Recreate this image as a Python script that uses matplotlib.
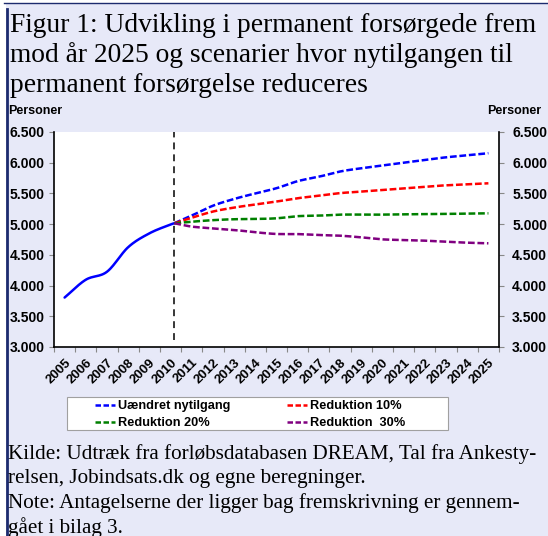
import numpy as np
import matplotlib
matplotlib.use("Agg")
import matplotlib.pyplot as plt
from matplotlib.patches import Rectangle
from matplotlib.lines import Line2D

# ---------------- data ----------------
years = list(range(2005, 2026))
year_labels = [str(y) for y in years]

hist_x = [2005, 2006, 2007, 2008, 2009, 2010, 2010.18]
hist_y = [3805, 4095, 4225, 4625, 4850, 4995, 5015]

proj_x = [2010.18] + list(range(2011, 2026))
uaendret = [5015, 5140, 5300, 5410, 5500, 5585, 5700, 5772, 5857, 5910, 5955, 6000, 6045, 6088, 6120, 6155]
red10 = [5015, 5105, 5205, 5270, 5320, 5368, 5422, 5463, 5505, 5530, 5556, 5583, 5610, 5632, 5648, 5665]
red20 = [5015, 5040, 5065, 5080, 5083, 5095, 5130, 5138, 5155, 5155, 5155, 5160, 5163, 5166, 5172, 5176]
red30 = [5015, 4960, 4932, 4905, 4868, 4840, 4838, 4823, 4812, 4785, 4752, 4742, 4731, 4714, 4698, 4688]

yticks = [3000, 3500, 4000, 4500, 5000, 5500, 6000, 6500]
ytick_labels = ["3.000", "3.500", "4.000", "4.500", "5.000", "5.500", "6.000", "6.500"]

series_labels = ["Uændret nytilgang", "Reduktion 10%", "Reduktion 20%", "Reduktion  30%"]
series_colors = ["#0000FF", "#FF0000", "#008000", "#800080"]

title_lines = ["Figur 1: Udvikling i permanent forsørgede frem",
               "mod år 2025 og scenarier hvor nytilgangen til",
               "permanent forsørgelse reduceres"]
note_lines = ["Kilde: Udtræk fra forløbsdatabasen DREAM, Tal fra Ankesty-",
              "relsen, Jobindsats.dk og egne beregninger.",
              "Note: Antagelserne der ligger bag fremskrivning er gennem-",
              "gået i bilag 3."]


def smooth(x, y, n=24):
    """Cubic Hermite (Catmull-Rom like) curve through the given points."""
    x = np.asarray(x, float)
    y = np.asarray(y, float)
    k = len(x)
    m = np.zeros(k)
    for i in range(k):
        if i == 0:
            m[i] = (y[1] - y[0]) / (x[1] - x[0])
        elif i == k - 1:
            m[i] = (y[-1] - y[-2]) / (x[-1] - x[-2])
        else:
            m[i] = (y[i + 1] - y[i - 1]) / (x[i + 1] - x[i - 1])
    xs, ys = [], []
    for i in range(k - 1):
        h = x[i + 1] - x[i]
        t = np.linspace(0, 1, n, endpoint=(i == k - 2))
        h00 = 2 * t**3 - 3 * t**2 + 1
        h10 = t**3 - 2 * t**2 + t
        h01 = -2 * t**3 + 3 * t**2
        h11 = t**3 - t**2
        xs.append(x[i] + t * h)
        ys.append(h00 * y[i] + h10 * h * m[i] + h01 * y[i + 1] + h11 * h * m[i + 1])
    return np.concatenate(xs), np.concatenate(ys)


# ---------------- figure ----------------
W, H = 548, 536
plt.rcParams["font.family"] = ["Liberation Sans", "DejaVu Sans"]
plt.rcParams["font.weight"] = "bold"

fig = plt.figure(figsize=(W / 100, H / 100), dpi=100, facecolor="white")
lav = "#E7E9F8"
navy = "#1C2B6E"
serif = ["Liberation Serif", "DejaVu Serif"]

def fx(px):
    return px / W

def fy(py):
    return 1 - py / H

fig.patches.append(Rectangle((fx(6), 0), 1 - fx(6), fy(3), transform=fig.transFigure,
                             facecolor=lav, edgecolor="none", zorder=-5))
fig.add_artist(Line2D([fx(4), 1], [fy(2.5), fy(2.5)], transform=fig.transFigure, color=navy, lw=1.0))
fig.add_artist(Line2D([fx(6.5), fx(6.5)], [0, fy(9)], transform=fig.transFigure, color=navy, lw=2.0))

ax = fig.add_axes([fx(54), fy(347), fx(499) - fx(54), fy(132) - fy(347)])
ax.set_facecolor("white")

# historical line
hx, hy = smooth(hist_x, hist_y)
ax.plot(hx, hy, color="#0000FF", lw=1.8, solid_capstyle="round", zorder=3)

for vals, col in zip([uaendret, red10, red20, red30], series_colors):
    sx, sy = smooth(proj_x, vals)
    ax.plot(sx, sy, color=col, lw=1.8, dashes=(2.7, 1.1), zorder=4)

# vertical dashed marker
ax.plot([hist_x[-1], hist_x[-1]], [3110, 6500], color="black", lw=1.1, dashes=(4.5, 3.3), zorder=5)

ax.set_xlim(2004.5, 2025.5)
ax.set_ylim(3000, 6500)
ax.set_yticks(yticks)
ax.set_yticklabels(ytick_labels)
ax.set_xticks(years)
ax.set_xticklabels(year_labels, rotation=45, ha="right", va="top", rotation_mode="anchor")
ax.set_xticks([y - 0.5 for y in years] + [2025.5], minor=True)

ax.tick_params(axis="x", which="major", length=0, labelsize=9.5, pad=7)
ax.tick_params(axis="x", which="minor", length=3.5, color="#888888", width=0.8, direction="out")
ax.tick_params(axis="y", which="major", length=3.5, color="#888888", width=0.8,
               direction="out", labelsize=10, pad=3.5)

ax.spines["top"].set_visible(False)
ax.spines["right"].set_visible(False)
for s in ["left", "bottom"]:
    ax.spines[s].set_color("black")
    ax.spines[s].set_linewidth(1.2)

ax2 = ax.twinx()
ax2.set_ylim(3000, 6500)
ax2.set_yticks(yticks)
ax2.set_yticklabels(ytick_labels)
ax2.tick_params(axis="y", length=3.5, color="#888888", width=0.8, direction="out",
                labelsize=10, pad=6)
for s in ["top", "left", "bottom"]:
    ax2.spines[s].set_visible(False)
ax2.spines["right"].set_color("black")
ax2.spines["right"].set_linewidth(1.2)

# "Personer" labels
fig.text(fx(8), fy(111), "Personer", ha="left", va="center", fontsize=9, fontweight="bold")
fig.text(fx(541), fy(111), "Personer", ha="right", va="center", fontsize=9, fontweight="bold")

# title
for i, line in enumerate(title_lines):
    fig.text(fx(10), fy(32 + 30 * i), line, ha="left", va="baseline",
             fontsize=19.8, family=serif, fontweight="normal")

# legend box
fig.patches.append(Rectangle((fx(67), fy(430)), fx(448) - fx(67), fy(397) - fy(430),
                             transform=fig.transFigure, facecolor="white",
                             edgecolor="#A0A0A0", lw=0.8, zorder=1))
handles = [Line2D([], [], color=c, lw=1.8, dashes=(2.2, 1.0)) for c in series_colors]
order = [0, 2, 1, 3]
leg = fig.legend([handles[i] for i in order], [series_labels[i] for i in order],
                 ncol=2, loc="upper left", bbox_to_anchor=(fx(95), fy(400)),
                 frameon=False, fontsize=9.2, handlelength=1.6, handletextpad=0.2,
                 columnspacing=4.4, labelspacing=0.4, borderpad=0, borderaxespad=0)
for t in leg.get_texts():
    t.set_fontweight("bold")

# footnotes
for i, line in enumerate(note_lines):
    fig.text(fx(8), fy(459 + 24.5 * i), line, ha="left", va="baseline",
             fontsize=15.2, family=serif, fontweight="normal")

fig.savefig("out.png", dpi=100, facecolor=fig.get_facecolor())
